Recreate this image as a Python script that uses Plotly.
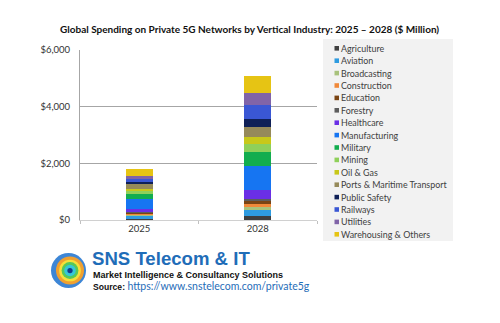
import plotly.graph_objects as go

years = ["2025", "2028"]
industries = ["Agriculture", "Aviation", "Broadcasting", "Construction", "Education",
              "Forestry", "Healthcare", "Manufacturing", "Military", "Mining",
              "Oil & Gas", "Ports & Maritime Transport", "Public Safety", "Railways",
              "Utilities", "Warehousing & Others"]
spend_2025 = [40, 106, 35, 35, 35, 25, 118, 354, 177, 95, 83, 153, 83, 118, 95, 235]
spend_2028 = [150, 200, 115, 105, 105, 60, 330, 850, 495, 270, 235, 375, 270, 485, 425, 610]
colors = ["#3f3f3f", "#2e9be0", "#a8c27c", "#f0893a", "#7a4414", "#5d5d5d",
          "#6a2fe6", "#1675f2", "#12ad4f", "#8fd05a", "#c8c81a", "#968a5a",
          "#0f2057", "#3a57d4", "#8064a8", "#e6c414"]
y_ticks = [0, 2000, 4000, 6000]
y_labels = ["&#36;" + f"{v:,}" for v in y_ticks]

W, H = 500, 323
L, R, T, B = 80, 317, 50, 220
FONT = "Lato"

def px(x):
    return (x - L) / (R - L)

def py(y):
    return (B - y) / (B - T)

fig = go.Figure()
for name, v25, v28, c in zip(industries, spend_2025, spend_2028, colors):
    fig.add_trace(go.Bar(x=years, y=[v25, v28], name=name, marker_color=c,
                         marker_line_width=0, width=0.23, showlegend=False))

shapes = []
annotations = []
# legend background
shapes.append(dict(type="rect", xref="paper", yref="paper", x0=px(323), x1=px(453),
                   y0=py(241), y1=py(39), fillcolor="#f2f2f2", line_width=0, layer="below"))
for i, (name, c) in enumerate(zip(industries, colors)):
    yc = 48.3 + i * 12.4
    shapes.append(dict(type="rect", xref="paper", yref="paper", x0=px(334.5), x1=px(339),
                       y0=py(yc + 2.3), y1=py(yc - 2.3), fillcolor=c, line_width=0))
    annotations.append(dict(text=name, xref="paper", yref="paper", x=px(340), y=py(yc),
                            xanchor="left", yanchor="middle", showarrow=False, borderpad=0,
                            font=dict(family=FONT, size=8.9, color="#404040")))

# title
annotations.append(dict(text="<b>Global Spending on Private 5G Networks by Vertical Industry: 2025 – 2028 ($ Million)</b>",
                        xref="paper", yref="paper", x=px(249), y=py(29), xanchor="center", yanchor="middle",
                        showarrow=False, font=dict(family=FONT, size=10, color="#111111")))

# footer
annotations.append(dict(text="<b>SNS Telecom &amp; IT</b>", xref="paper", yref="paper", x=px(91), y=py(258),
                        xanchor="left", yanchor="middle", showarrow=False, borderpad=0,
                        font=dict(family="Liberation Sans", size=18.6, color="#1f6db8")))
annotations.append(dict(text="<b>Market Intelligence &amp; Consultancy Solutions</b>", xref="paper", yref="paper",
                        x=px(91.5), y=py(274.5), xanchor="left", yanchor="middle", showarrow=False, borderpad=0,
                        font=dict(family="Liberation Sans", size=9, color="#111111")))
annotations.append(dict(text="<b>Source:</b> <span style='color:#1f6db8;font-family:Lato;font-size:10.5px'>https://www.snstelecom.com/private5g</span>",
                        xref="paper", yref="paper", x=px(91.5), y=py(285.5), xanchor="left", yanchor="middle",
                        showarrow=False, borderpad=0,
                        font=dict(family="Liberation Sans", size=8.6, color="#111111")))

# logo (concentric rings)
cx, cy, r = 68.5, 270.5, 17.5
logo = [(r, "#3d86d6"), (r * 0.8, "#f0a030"), (r * 0.62, "#f5e03a"), (r * 0.48, "#56c85a"),
        (r * 0.33, "#36c7d8"), (r * 0.15, "#123a8a")]
for k, (rr, col) in enumerate(logo):
    off = 0 if k == 0 else 1.5
    shapes.append(dict(type="circle", xref="paper", yref="paper",
                       x0=px(cx - rr + off), x1=px(cx + rr + off), y0=py(cy + rr), y1=py(cy - rr),
                       fillcolor=col, line_width=0))
shapes.append(dict(type="path", xref="paper", yref="paper",
                   path=f"M {px(cx)} {py(cy - r)} A 1 1 0 0 0 {px(cx)} {py(cy + r)} Z",
                   fillcolor="rgba(230,110,130,0.55)", line_width=0))

fig.update_layout(
    width=W, height=H,
    margin=dict(l=L, r=W - R, t=T, b=H - B),
    paper_bgcolor="white", plot_bgcolor="white",
    barmode="stack", bargap=0,
    shapes=shapes, annotations=annotations,
    xaxis=dict(type="category", range=[-0.5, 1.5], showline=True, linecolor="#d0d0d0", linewidth=1,
               ticks="outside", tickson="boundaries", ticklen=3, tickcolor="#c0c0c0",
               tickfont=dict(family=FONT, size=9.5, color="#333333"), showgrid=False),
    yaxis=dict(range=[0, 6000], tickvals=y_ticks, ticktext=y_labels,
               showline=True, linecolor="#a6a6a6", linewidth=1, showgrid=True, gridcolor="#a6a6a6",
               zeroline=False, ticks="", ticklabelstandoff=7,
               tickfont=dict(family=FONT, size=9.5, color="#333333")),
    font=dict(family=FONT),
)

fig.write_html("out.html")
